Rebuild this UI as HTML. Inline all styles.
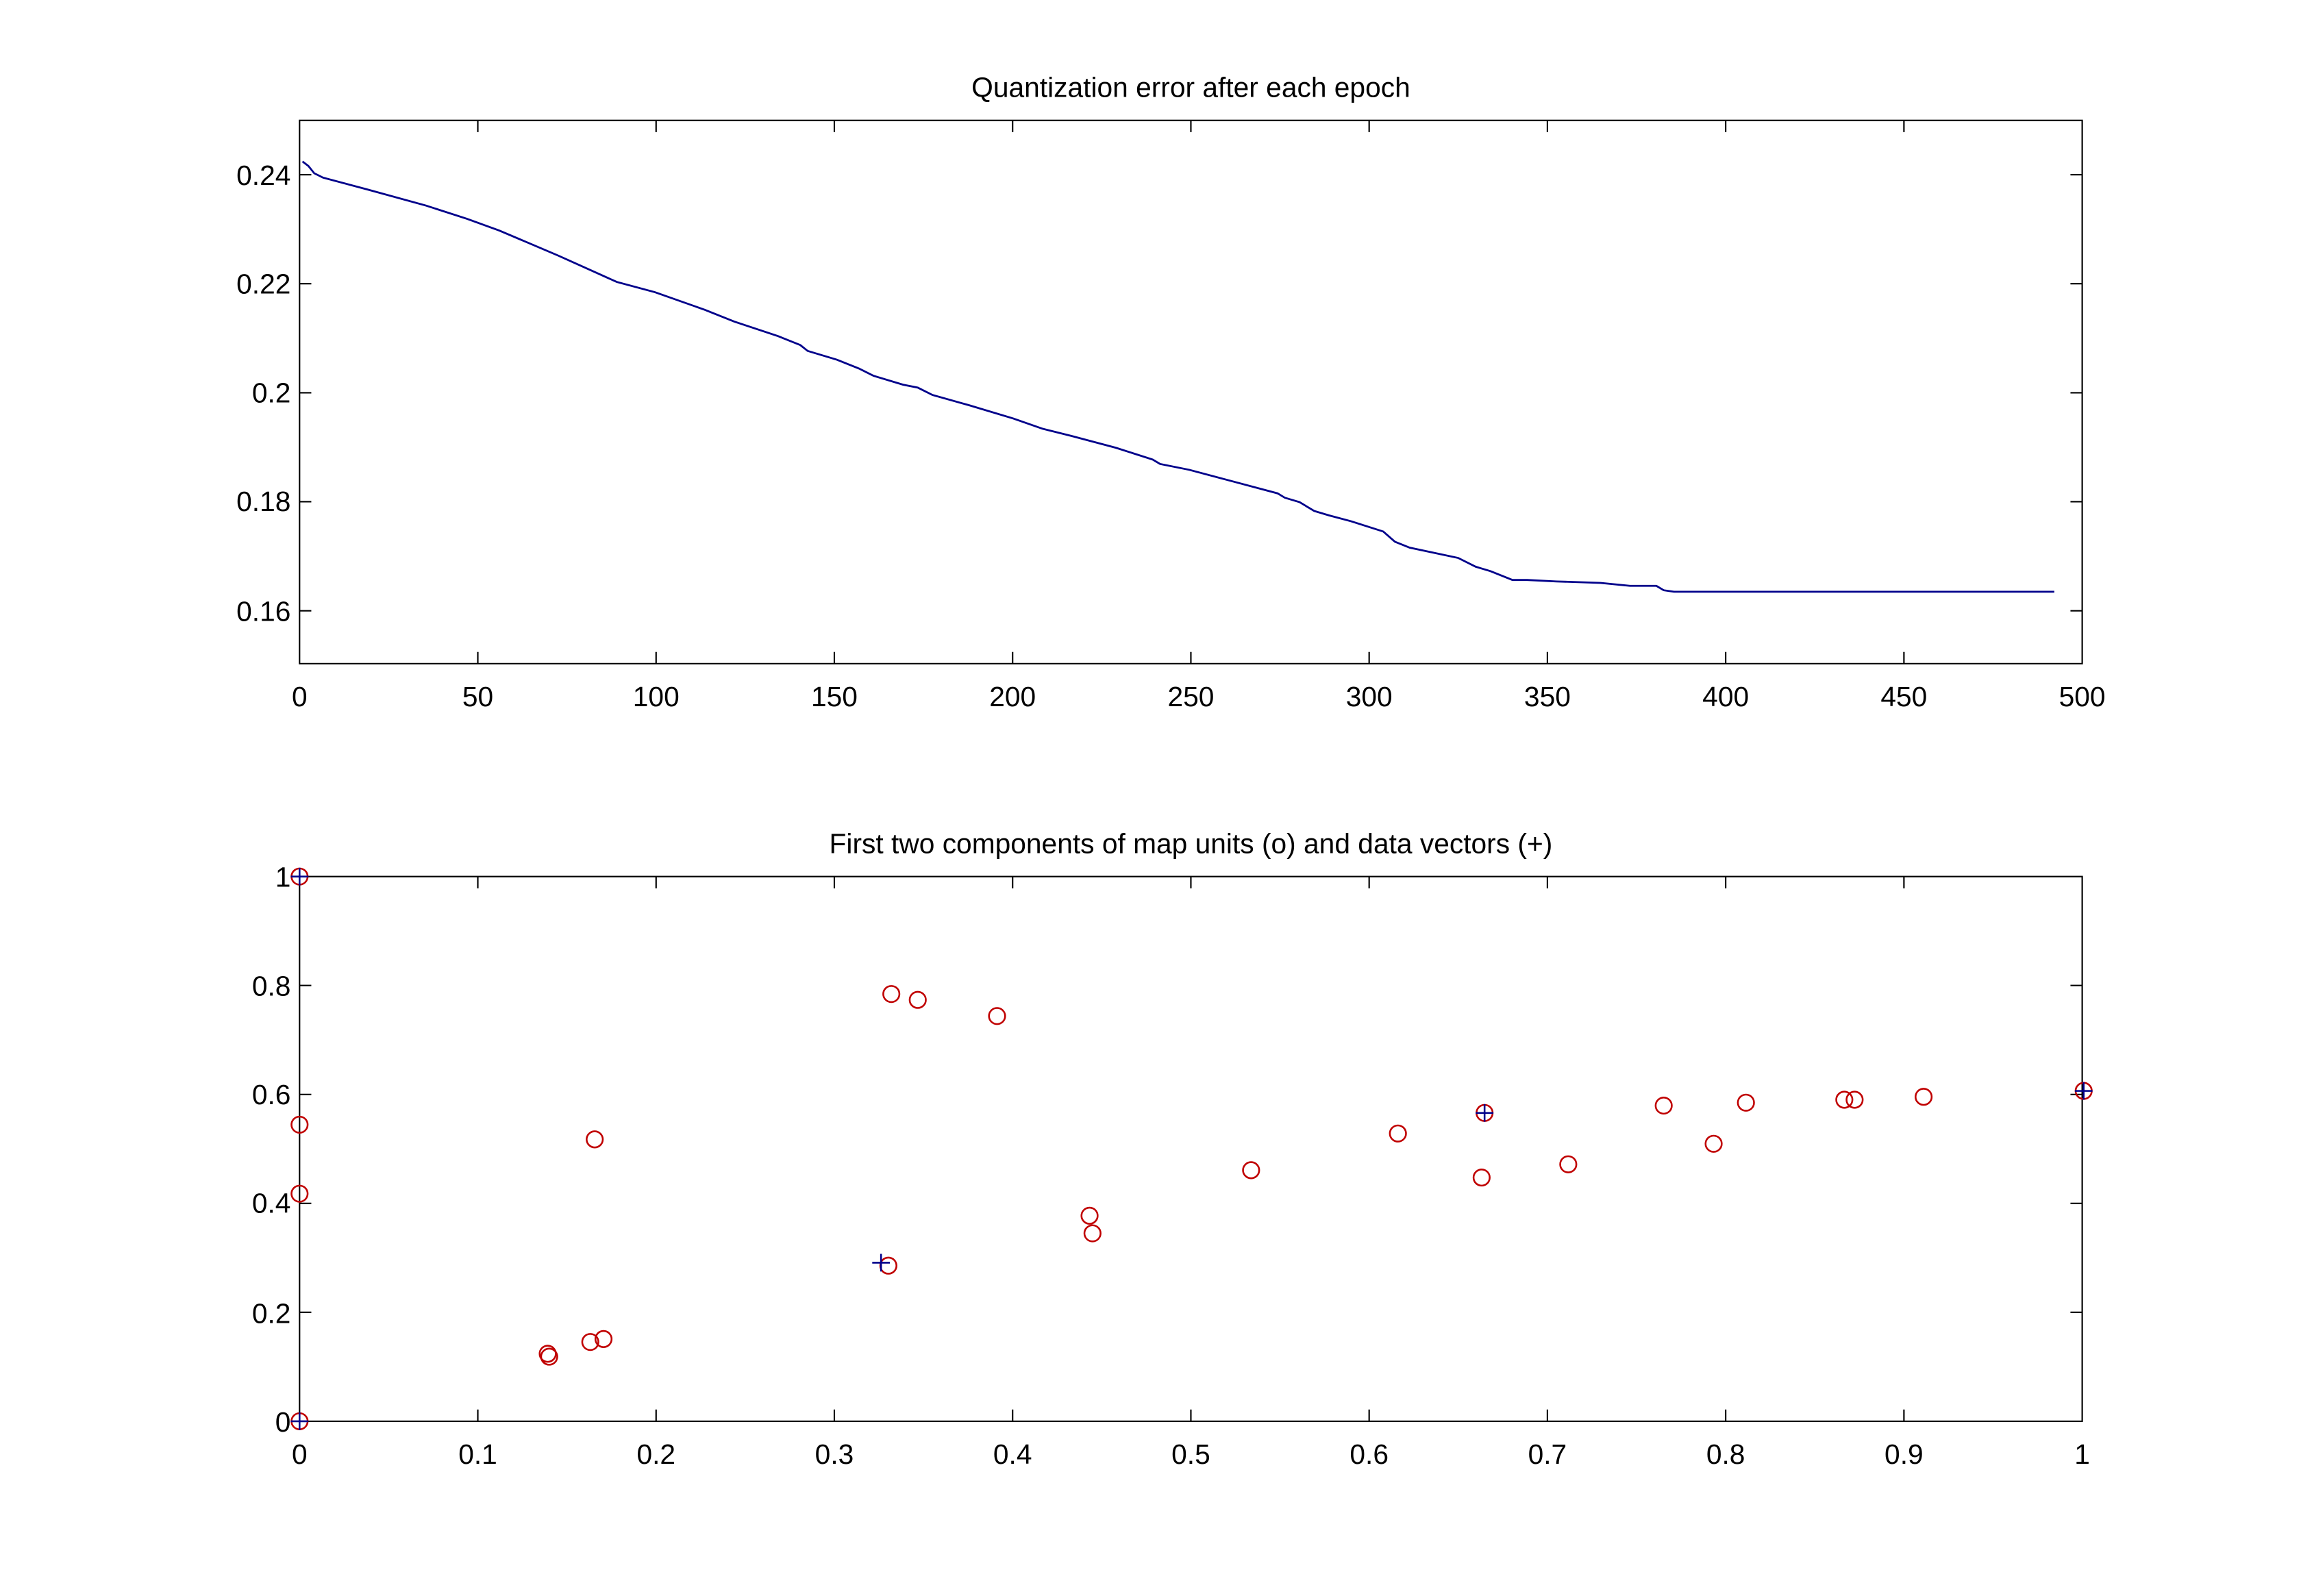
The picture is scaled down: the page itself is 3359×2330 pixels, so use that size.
<!DOCTYPE html>
<html><head><meta charset="utf-8"><style>html,body{margin:0;padding:0;background:#fff}svg{display:block}</style></head><body>
<svg width="3359" height="2330" viewBox="0 0 1567 1087" preserveAspectRatio="none" xmlns="http://www.w3.org/2000/svg" font-family="Liberation Sans, sans-serif" font-size="19">
<rect width="1567" height="1087" fill="#fff"/>
<g stroke="#000" stroke-width="1" fill="none">
<rect x="204" y="82" width="1214" height="370"/>
<rect x="204" y="597" width="1214" height="371"/>
</g>
<g stroke="#000" stroke-width="1">
<path d="M325.4 452v-8M325.4 82v8M446.8 452v-8M446.8 82v8M568.2 452v-8M568.2 82v8M689.6 452v-8M689.6 82v8M811 452v-8M811 82v8M932.4 452v-8M932.4 82v8M1053.8 452v-8M1053.8 82v8M1175.2 452v-8M1175.2 82v8M1296.6 452v-8M1296.6 82v8"/>
<path d="M204 119h8M1418 119h-8M204 193.2h8M1418 193.2h-8M204 267.5h8M1418 267.5h-8M204 341.7h8M1418 341.7h-8M204 416h8M1418 416h-8"/>
<path d="M325.4 968v-8M325.4 597v8M446.8 968v-8M446.8 597v8M568.2 968v-8M568.2 597v8M689.6 968v-8M689.6 597v8M811 968v-8M811 597v8M932.4 968v-8M932.4 597v8M1053.8 968v-8M1053.8 597v8M1175.2 968v-8M1175.2 597v8M1296.6 968v-8M1296.6 597v8"/>
<path d="M204 671.2h8M1418 671.2h-8M204 745.4h8M1418 745.4h-8M204 819.6h8M1418 819.6h-8M204 893.8h8M1418 893.8h-8"/>
</g>
<g fill="#000" text-anchor="middle">
<text x="811" y="66">Quantization error after each epoch</text>
<text x="811" y="581">First two components of map units (o) and data vectors (+)</text>
<text x="204" y="481">0</text><text x="325.4" y="481">50</text><text x="446.8" y="481">100</text><text x="568.2" y="481">150</text><text x="689.6" y="481">200</text><text x="811" y="481">250</text><text x="932.4" y="481">300</text><text x="1053.8" y="481">350</text><text x="1175.2" y="481">400</text><text x="1296.6" y="481">450</text><text x="1418" y="481">500</text>
<text x="204" y="997">0</text><text x="325.4" y="997">0.1</text><text x="446.8" y="997">0.2</text><text x="568.2" y="997">0.3</text><text x="689.6" y="997">0.4</text><text x="811" y="997">0.5</text><text x="932.4" y="997">0.6</text><text x="1053.8" y="997">0.7</text><text x="1175.2" y="997">0.8</text><text x="1296.6" y="997">0.9</text><text x="1418" y="997">1</text>
</g>
<g fill="#000" text-anchor="end">
<text x="198" y="126">0.24</text><text x="198" y="200">0.22</text><text x="198" y="274">0.2</text><text x="198" y="348">0.18</text><text x="198" y="423">0.16</text>
<text x="198" y="604">1</text><text x="198" y="678">0.8</text><text x="198" y="752">0.6</text><text x="198" y="826">0.4</text><text x="198" y="901">0.2</text><text x="198" y="975">0</text>
</g>
<polyline fill="none" stroke="#00008b" stroke-width="1.3" points="206,110 210,113 214,118 220,121 250,129 290,140 318,149 340,157 380,174 420,192 446,199 480,211 500,219 530,229 545,235 550,239 570,245 585,251 595,256 615,262 625,264 635,269 660,276 690,285 710,292 730,297 760,305 785,313 790,316 810,320 840,328 870,336 875,339 885,342 895,348 905,351 920,355 942,362 950,369 960,373 993,380 1005,386 1015,389 1030,395 1040,395 1060,396 1090,397 1100,398 1110,399 1128,399 1133,402 1140,403 1200,403 1300,403 1399,403"/>
<g fill="none" stroke="#c00000" stroke-width="1.2">
<circle cx="204" cy="597" r="5.5"/><circle cx="204" cy="766" r="5.5"/><circle cx="204" cy="813" r="5.5"/><circle cx="204" cy="968" r="5.5"/>
<circle cx="405" cy="776" r="5.5"/><circle cx="373" cy="922" r="5.5"/><circle cx="374" cy="924" r="5.5"/><circle cx="402" cy="914" r="5.5"/><circle cx="411" cy="912" r="5.5"/>
<circle cx="607" cy="677" r="5.5"/><circle cx="625" cy="681" r="5.5"/><circle cx="679" cy="692" r="5.5"/><circle cx="605" cy="862" r="5.5"/>
<circle cx="742" cy="828" r="5.5"/><circle cx="744" cy="840" r="5.5"/><circle cx="852" cy="797" r="5.5"/><circle cx="952" cy="772" r="5.5"/>
<circle cx="1009" cy="802" r="5.5"/><circle cx="1011" cy="758" r="5.5"/><circle cx="1068" cy="793" r="5.5"/><circle cx="1133" cy="753" r="5.5"/>
<circle cx="1167" cy="779" r="5.5"/><circle cx="1189" cy="751" r="5.5"/><circle cx="1256" cy="749" r="5.5"/><circle cx="1263" cy="749" r="5.5"/>
<circle cx="1310" cy="747" r="5.5"/><circle cx="1419" cy="743" r="5.5"/>
</g>
<g stroke="#00008b" stroke-width="1.2">
<path d="M198 597h12M204 591v12M198 968h12M204 962v12M594 860h12M600 854v12M1005 758h12M1011 752v12M1413 743h12M1419 737v12"/>
</g>
</svg>
</body></html>
